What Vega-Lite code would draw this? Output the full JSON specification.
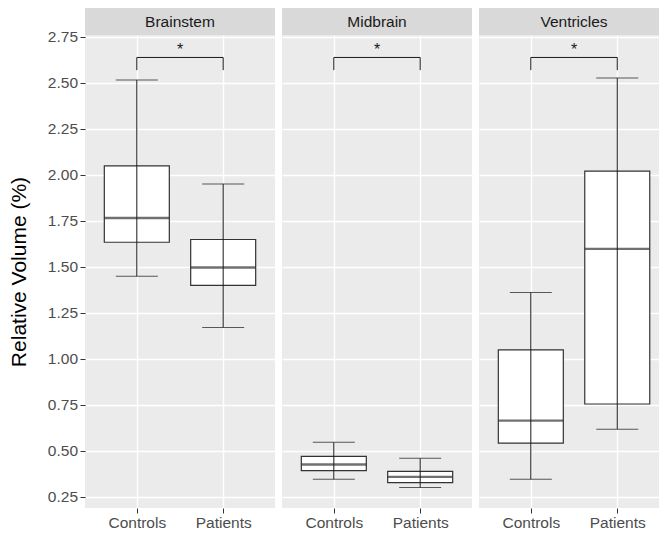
{
  "$schema": "https://vega.github.io/schema/vega-lite/v6.json",
  "padding": {"left": 8, "top": 8, "right": 0, "bottom": 0},
  "spacing": 7,
  "datasets": {
    "box": [
      {"region": "Brainstem", "group": "Controls", "lower": 1.449, "q1": 1.634, "median": 1.766, "q3": 2.049, "upper": 2.516},
      {"region": "Brainstem", "group": "Patients", "lower": 1.171, "q1": 1.400, "median": 1.497, "q3": 1.649, "upper": 1.951},
      {"region": "Midbrain", "group": "Controls", "lower": 0.346, "q1": 0.393, "median": 0.426, "q3": 0.471, "upper": 0.547},
      {"region": "Midbrain", "group": "Patients", "lower": 0.301, "q1": 0.328, "median": 0.359, "q3": 0.389, "upper": 0.460},
      {"region": "Ventricles", "group": "Controls", "lower": 0.346, "q1": 0.543, "median": 0.665, "q3": 1.049, "upper": 1.361},
      {"region": "Ventricles", "group": "Patients", "lower": 0.618, "q1": 0.755, "median": 1.598, "q3": 2.020, "upper": 2.527}
    ],
    "sig": [
      {"region": "Brainstem", "from": "Controls", "to": "Patients", "y": 2.638, "tip": 2.569, "label": "*", "label_y": 2.65},
      {"region": "Midbrain", "from": "Controls", "to": "Patients", "y": 2.638, "tip": 2.569, "label": "*", "label_y": 2.65},
      {"region": "Ventricles", "from": "Controls", "to": "Patients", "y": 2.638, "tip": 2.569, "label": "*", "label_y": 2.65}
    ],
    "strips": [
      {"region": "Brainstem"}, {"region": "Midbrain"}, {"region": "Ventricles"}
    ]
  },
  "hconcat": [
    {
      "spacing": 0, "bounds": "flush",
      "vconcat": [
        {"width": 190, "height": 27, "data": {"name": "strips"}, "transform": [{"filter": "datum.region == 'Brainstem'"}],
         "mark": {"type": "text", "fontSize": 15.5, "color": "#1A1A1A", "baseline": "middle"},
         "encoding": {"text": {"field": "region", "type": "nominal"}},
         "view": {"fill": "#D9D9D9", "stroke": null}},
        {"width": 190, "height": 473,
         "layer": [
          {"data": {"name": "box"}, "transform": [{"filter": "datum.region == 'Brainstem'"}],
           "encoding": {"x": {"field": "group", "type": "nominal", "scale": {"type": "point", "padding": 0.6, "domain": ["Controls", "Patients"]}, "axis": {"title": null}}},
           "layer": [
            {"mark": {"type": "bar", "fill": "#FFFFFF", "stroke": "#333333", "strokeWidth": 1.2, "size": 65},
             "encoding": {"y": {"field": "q1", "type": "quantitative", "scale": {"domain": [0.19, 2.76], "nice": false, "zero": false},
               "axis": {"title": "Relative Volume (%)", "values": [0.25,0.375,0.5,0.625,0.75,0.875,1,1.125,1.25,1.375,1.5,1.625,1.75,1.875,2,2.125,2.25,2.375,2.5,2.625,2.75],
                 "labelExpr": "(datum.value*8)%2==1 ? '' : format(datum.value,'.2f')",
                 "gridWidth": {"condition": {"test": "(datum.value*8)%2==1", "value": 0.7}, "value": 1.4},
                 "tickOpacity": {"condition": {"test": "(datum.value*8)%2==1", "value": 0}, "value": 1}}},
               "y2": {"field": "q3"}}},
            {"mark": {"type": "tick", "color": "#333333", "thickness": 2.4, "size": 65},
             "encoding": {"y": {"field": "median", "type": "quantitative"}}},
            {"mark": {"type": "rule", "color": "#1A1A1A", "strokeWidth": 1},
             "encoding": {"y": {"field": "lower", "type": "quantitative"}, "y2": {"field": "upper"}}},
            {"mark": {"type": "tick", "color": "#1A1A1A", "thickness": 1, "size": 42},
             "encoding": {"y": {"field": "upper", "type": "quantitative"}}},
            {"mark": {"type": "tick", "color": "#1A1A1A", "thickness": 1, "size": 42},
             "encoding": {"y": {"field": "lower", "type": "quantitative"}}}
           ]},
          {"data": {"name": "sig"}, "transform": [{"filter": "datum.region == 'Brainstem'"}],
           "layer": [
            {"mark": {"type": "rule", "color": "#1A1A1A", "strokeWidth": 1},
             "encoding": {"x": {"field": "from", "type": "nominal"}, "x2": {"field": "to"}, "y": {"field": "y", "type": "quantitative"}}},
            {"mark": {"type": "rule", "color": "#1A1A1A", "strokeWidth": 1},
             "encoding": {"x": {"field": "from", "type": "nominal"}, "y": {"field": "tip", "type": "quantitative"}, "y2": {"field": "y"}}},
            {"mark": {"type": "rule", "color": "#1A1A1A", "strokeWidth": 1},
             "encoding": {"x": {"field": "to", "type": "nominal"}, "y": {"field": "tip", "type": "quantitative"}, "y2": {"field": "y"}}},
            {"mark": {"type": "text", "color": "#1A1A1A", "fontSize": 16, "baseline": "alphabetic", "dx": 43.2},
             "encoding": {"x": {"field": "from", "type": "nominal"}, "y": {"field": "label_y", "type": "quantitative"}, "text": {"field": "label"}}}
           ]}
         ]}
      ]
    },
    {
      "spacing": 0, "bounds": "flush",
      "vconcat": [
        {"width": 190, "height": 27, "data": {"name": "strips"}, "transform": [{"filter": "datum.region == 'Midbrain'"}],
         "mark": {"type": "text", "fontSize": 15.5, "color": "#1A1A1A", "baseline": "middle"},
         "encoding": {"text": {"field": "region", "type": "nominal"}},
         "view": {"fill": "#D9D9D9", "stroke": null}},
        {"width": 190, "height": 473,
         "layer": [
          {"data": {"name": "box"}, "transform": [{"filter": "datum.region == 'Midbrain'"}],
           "encoding": {"x": {"field": "group", "type": "nominal", "scale": {"type": "point", "padding": 0.6, "domain": ["Controls", "Patients"]}, "axis": {"title": null}}},
           "layer": [
            {"mark": {"type": "bar", "fill": "#FFFFFF", "stroke": "#333333", "strokeWidth": 1.2, "size": 65},
             "encoding": {"y": {"field": "q1", "type": "quantitative", "scale": {"domain": [0.19, 2.76], "nice": false, "zero": false},
               "axis": {"title": null, "labels": false, "ticks": false, "values": [0.25,0.375,0.5,0.625,0.75,0.875,1,1.125,1.25,1.375,1.5,1.625,1.75,1.875,2,2.125,2.25,2.375,2.5,2.625,2.75],
                 "gridWidth": {"condition": {"test": "(datum.value*8)%2==1", "value": 0.7}, "value": 1.4}}},
               "y2": {"field": "q3"}}},
            {"mark": {"type": "tick", "color": "#333333", "thickness": 2.4, "size": 65},
             "encoding": {"y": {"field": "median", "type": "quantitative"}}},
            {"mark": {"type": "rule", "color": "#1A1A1A", "strokeWidth": 1},
             "encoding": {"y": {"field": "lower", "type": "quantitative"}, "y2": {"field": "upper"}}},
            {"mark": {"type": "tick", "color": "#1A1A1A", "thickness": 1, "size": 42},
             "encoding": {"y": {"field": "upper", "type": "quantitative"}}},
            {"mark": {"type": "tick", "color": "#1A1A1A", "thickness": 1, "size": 42},
             "encoding": {"y": {"field": "lower", "type": "quantitative"}}}
           ]},
          {"data": {"name": "sig"}, "transform": [{"filter": "datum.region == 'Midbrain'"}],
           "layer": [
            {"mark": {"type": "rule", "color": "#1A1A1A", "strokeWidth": 1},
             "encoding": {"x": {"field": "from", "type": "nominal"}, "x2": {"field": "to"}, "y": {"field": "y", "type": "quantitative"}}},
            {"mark": {"type": "rule", "color": "#1A1A1A", "strokeWidth": 1},
             "encoding": {"x": {"field": "from", "type": "nominal"}, "y": {"field": "tip", "type": "quantitative"}, "y2": {"field": "y"}}},
            {"mark": {"type": "rule", "color": "#1A1A1A", "strokeWidth": 1},
             "encoding": {"x": {"field": "to", "type": "nominal"}, "y": {"field": "tip", "type": "quantitative"}, "y2": {"field": "y"}}},
            {"mark": {"type": "text", "color": "#1A1A1A", "fontSize": 16, "baseline": "alphabetic", "dx": 43.2},
             "encoding": {"x": {"field": "from", "type": "nominal"}, "y": {"field": "label_y", "type": "quantitative"}, "text": {"field": "label"}}}
           ]}
         ]}
      ]
    },
    {
      "spacing": 0, "bounds": "flush",
      "vconcat": [
        {"width": 181, "height": 27, "data": {"name": "strips"}, "transform": [{"filter": "datum.region == 'Ventricles'"}],
         "mark": {"type": "text", "fontSize": 15.5, "color": "#1A1A1A", "baseline": "middle", "dx": 4.5},
         "encoding": {"text": {"field": "region", "type": "nominal"}},
         "view": {"fill": "#D9D9D9", "stroke": null}},
        {"width": 181, "height": 473,
         "layer": [
          {"data": {"name": "box"}, "transform": [{"filter": "datum.region == 'Ventricles'"}],
           "encoding": {"x": {"field": "group", "type": "nominal", "scale": {"type": "point", "padding": 0.547, "align": 0.548, "domain": ["Controls", "Patients"]}, "axis": {"title": null}}},
           "layer": [
            {"mark": {"type": "bar", "fill": "#FFFFFF", "stroke": "#333333", "strokeWidth": 1.2, "size": 65},
             "encoding": {"y": {"field": "q1", "type": "quantitative", "scale": {"domain": [0.19, 2.76], "nice": false, "zero": false},
               "axis": {"title": null, "labels": false, "ticks": false, "values": [0.25,0.375,0.5,0.625,0.75,0.875,1,1.125,1.25,1.375,1.5,1.625,1.75,1.875,2,2.125,2.25,2.375,2.5,2.625,2.75],
                 "gridWidth": {"condition": {"test": "(datum.value*8)%2==1", "value": 0.7}, "value": 1.4}}},
               "y2": {"field": "q3"}}},
            {"mark": {"type": "tick", "color": "#333333", "thickness": 2.4, "size": 65},
             "encoding": {"y": {"field": "median", "type": "quantitative"}}},
            {"mark": {"type": "rule", "color": "#1A1A1A", "strokeWidth": 1},
             "encoding": {"y": {"field": "lower", "type": "quantitative"}, "y2": {"field": "upper"}}},
            {"mark": {"type": "tick", "color": "#1A1A1A", "thickness": 1, "size": 42},
             "encoding": {"y": {"field": "upper", "type": "quantitative"}}},
            {"mark": {"type": "tick", "color": "#1A1A1A", "thickness": 1, "size": 42},
             "encoding": {"y": {"field": "lower", "type": "quantitative"}}}
           ]},
          {"data": {"name": "sig"}, "transform": [{"filter": "datum.region == 'Ventricles'"}],
           "layer": [
            {"mark": {"type": "rule", "color": "#1A1A1A", "strokeWidth": 1},
             "encoding": {"x": {"field": "from", "type": "nominal"}, "x2": {"field": "to"}, "y": {"field": "y", "type": "quantitative"}}},
            {"mark": {"type": "rule", "color": "#1A1A1A", "strokeWidth": 1},
             "encoding": {"x": {"field": "from", "type": "nominal"}, "y": {"field": "tip", "type": "quantitative"}, "y2": {"field": "y"}}},
            {"mark": {"type": "rule", "color": "#1A1A1A", "strokeWidth": 1},
             "encoding": {"x": {"field": "to", "type": "nominal"}, "y": {"field": "tip", "type": "quantitative"}, "y2": {"field": "y"}}},
            {"mark": {"type": "text", "color": "#1A1A1A", "fontSize": 16, "baseline": "alphabetic", "dx": 43.2},
             "encoding": {"x": {"field": "from", "type": "nominal"}, "y": {"field": "label_y", "type": "quantitative"}, "text": {"field": "label"}}}
           ]}
         ]}
      ]
    }
  ],
  "config": {
    "font": "Liberation Sans",
    "view": {"fill": "#EBEBEB", "stroke": null},
    "axisX": {"domain": false, "grid": true, "gridColor": "#FFFFFF", "gridWidth": 1.4, "tickColor": "#333333", "tickSize": 5, "labelFontSize": 15.5, "labelColor": "#4D4D4D", "labelPadding": 2.5, "labelAngle": 0, "labelFont": "Liberation Sans"},
    "axisY": {"domain": false, "grid": true, "gridColor": "#FFFFFF", "tickColor": "#333333", "tickSize": 5, "labelFontSize": 15.5, "labelColor": "#4D4D4D", "labelPadding": 2.5, "labelFont": "Liberation Sans", "titleFont": "Liberation Sans", "titleFontSize": 21, "titleFontWeight": "normal", "titleColor": "#000000", "titlePadding": 18}
  }
}
